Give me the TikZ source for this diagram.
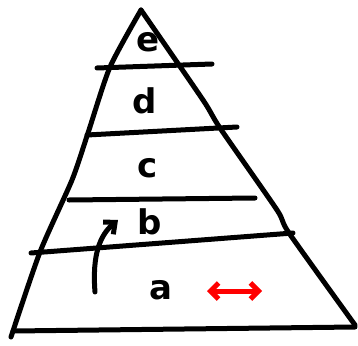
\documentclass[tikz,border=0pt]{standalone}
\usepackage{fontspec}
\setsansfont{DejaVu Sans}
\usetikzlibrary{arrows.meta}

\begin{document}
\begin{tikzpicture}[x=1pt, y=-1pt,
  pen/.style={line width=5pt, line cap=round, line join=round},
  lvl/.style={font=\sffamily\bfseries\fontsize{34}{34}\selectfont},
  arr/.style={pen, -{Straight Barb[length=9pt, width=16pt]}}]
  \useasboundingbox (0,0) rectangle (358,345);

  % Outline of the pyramid
  \draw[pen] plot[smooth, tension=0.4] coordinates
    {(11,337) (40,252) (72,180) (88,133) (110,67) (141,10)};
  \draw[pen] plot[smooth, tension=0.4] coordinates
    {(141,10) (203,100) (220,128) (277,210) (289,233) (355,325)};
  \draw[pen] (13,331) -- (355,327);

  % Levels
  \draw[pen] (97,68) -- (212,64);
  \draw[pen] (87,135) -- (237,127);
  \draw[pen] (69,200) -- (255,198);
  \draw[pen] (31,253) -- (293,233);

  % Labels
  \node[lvl] (lblE) at (148,42) {e};
  \node[lvl] (lblD) at (145,101) {d};
  \node[lvl] (lblC) at (148,168) {c};
  \node[lvl] (lblB) at (150,222) {b};
  \node[lvl] (lblA) at (161,290) {a};

  % Moving up from a to b
  \coordinate (upFrom) at (95,292);
  \coordinate (upTo) at (118,220);
  \draw[arr] (upFrom) .. controls (92,255) and (100,235) .. (upTo);

  % Width of level a
  \coordinate (wL) at (207,291);
  \coordinate (wR) at (262,291);
  \draw[pen, red, {Straight Barb[length=8pt, width=16pt]}-{Straight Barb[length=8pt, width=16pt]}] (wL) -- (wR);
\end{tikzpicture}
\end{document}
